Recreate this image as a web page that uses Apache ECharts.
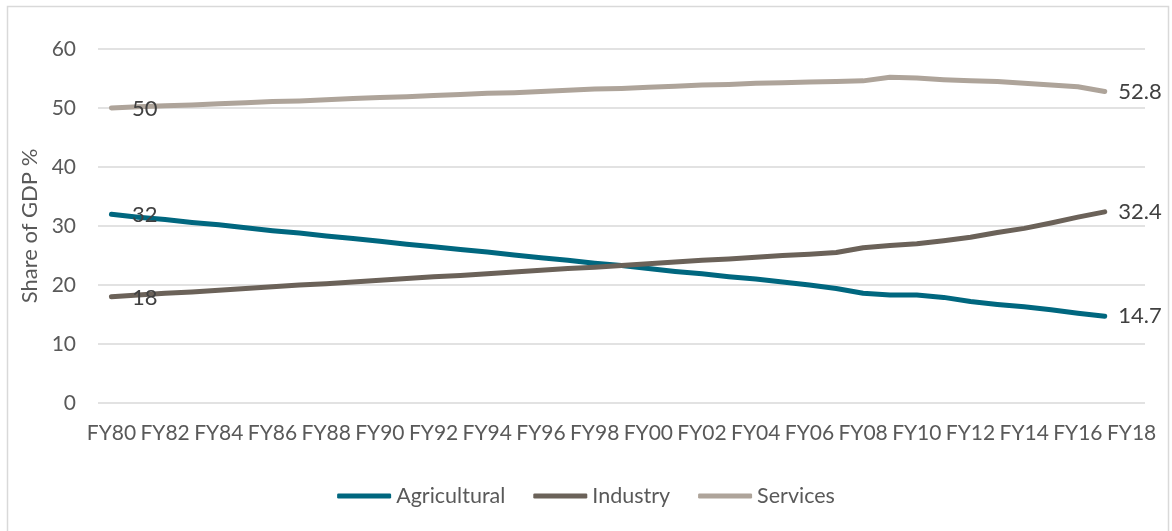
<!DOCTYPE html>
<html>
<head>
<meta charset="utf-8">
<title>Share of GDP by sector</title>
<script src="https://cdn.jsdelivr.net/npm/echarts@6/dist/echarts.min.js"></script>
<style>
  html, body { margin: 0; padding: 0; background: #ffffff; }
  #chart { width: 1172px; height: 531px; }
</style>
</head>
<body>
<div id="chart"></div>
<script>
// Fiscal years FY80 .. FY18 (data runs to FY17)
const years = [
  'FY80','FY81','FY82','FY83','FY84','FY85','FY86','FY87','FY88','FY89',
  'FY90','FY91','FY92','FY93','FY94','FY95','FY96','FY97','FY98','FY99',
  'FY00','FY01','FY02','FY03','FY04','FY05','FY06','FY07','FY08','FY09',
  'FY10','FY11','FY12','FY13','FY14','FY15','FY16','FY17','FY18'
];

// Sector shares of GDP, %
const agricultural = [
  32.0, 31.5, 31.1, 30.6, 30.2, 29.7, 29.2, 28.8, 28.3, 27.9,
  27.4, 26.9, 26.5, 26.0, 25.6, 25.1, 24.6, 24.2, 23.7, 23.3,
  22.8, 22.3, 21.9, 21.4, 21.0, 20.5, 20.0, 19.4, 18.6, 18.3,
  18.3, 17.9, 17.2, 16.7, 16.3, 15.8, 15.2, 14.7
];
const industry = [
  18.0, 18.3, 18.6, 18.8, 19.1, 19.4, 19.7, 20.0, 20.2, 20.5,
  20.8, 21.1, 21.4, 21.6, 21.9, 22.2, 22.5, 22.8, 23.0, 23.3,
  23.6, 23.9, 24.2, 24.4, 24.7, 25.0, 25.2, 25.5, 26.3, 26.7,
  27.0, 27.5, 28.1, 28.9, 29.6, 30.5, 31.5, 32.4
];
const services = [
  50.0, 50.2, 50.4, 50.5, 50.7, 50.9, 51.1, 51.2, 51.4, 51.6,
  51.8, 51.9, 52.1, 52.3, 52.5, 52.6, 52.8, 53.0, 53.2, 53.3,
  53.5, 53.7, 53.9, 54.0, 54.2, 54.3, 54.4, 54.5, 54.6, 55.2,
  55.1, 54.8, 54.6, 54.5, 54.2, 53.9, 53.6, 52.8
];

const yTicks = { min: 0, max: 60, interval: 10 };

const FONT = 'Lato, "Open Sans", sans-serif';
const colors = { agricultural: '#00677f', industry: '#6b6259', services: '#aea49a' };

// Label only the first and last points of each series
function withEndLabels(values) {
  const last = values.length - 1;
  return values.map(function (v, i) {
    if (i === 0) {
      return { value: v, label: { show: true, position: 'right', offset: [15, 1] } };
    }
    if (i === last) {
      return { value: v, label: { show: true, position: 'right', offset: [8, 0] } };
    }
    return v;
  });
}

function lineSeries(name, values, color) {
  return {
    name: name,
    type: 'line',
    data: withEndLabels(values),
    symbol: 'circle',
    symbolSize: 1,
    showAllSymbol: true,
    itemStyle: { color: color },
    lineStyle: { color: color, width: 5, cap: 'round', join: 'round' },
    label: {
      show: false,
      fontFamily: FONT,
      fontSize: 22,
      color: '#404040'
    },
    emphasis: { disabled: true },
    animation: false
  };
}

const chart = echarts.init(document.getElementById('chart'), null, { renderer: 'canvas' });

chart.setOption({
  backgroundColor: '#ffffff',
  textStyle: { fontFamily: FONT },
  graphic: [{
    type: 'rect',
    shape: { x: 7.5, y: 6.5, width: 1161, height: 560 },
    style: { fill: 'none', stroke: '#d9d9d9', lineWidth: 1.5 },
    silent: true
  }],
  grid: { left: 98, right: 27, top: 49, bottom: 128, containLabel: false },
  legend: {
    top: 480,
    left: 'center',
    icon: 'roundRect',
    itemWidth: 54,
    itemHeight: 5,
    itemGap: 28,
    textStyle: { fontFamily: FONT, fontSize: 21.5, color: '#595959' },
    data: ['Agricultural', 'Industry', 'Services']
  },
  xAxis: {
    type: 'category',
    data: years,
    boundaryGap: true,
    axisLine: { show: false },
    axisTick: { show: false },
    axisLabel: {
      interval: 1,
      margin: 20,
      fontFamily: FONT,
      fontSize: 21,
      color: '#595959'
    },
    splitLine: { show: false }
  },
  yAxis: {
    type: 'value',
    min: yTicks.min,
    max: yTicks.max,
    interval: yTicks.interval,
    name: 'Share of GDP %',
    nameLocation: 'middle',
    nameRotate: 90,
    nameGap: 55,
    nameTextStyle: { fontFamily: FONT, fontSize: 22, color: '#595959' },
    axisLine: { show: false },
    axisTick: { show: false },
    axisLabel: {
      margin: 22,
      fontFamily: FONT,
      fontSize: 21,
      color: '#595959'
    },
    splitLine: { lineStyle: { color: '#d9d9d9', width: 1.5 } }
  },
  series: [
    lineSeries('Agricultural', agricultural, colors.agricultural),
    lineSeries('Industry', industry, colors.industry),
    lineSeries('Services', services, colors.services)
  ]
});
</script>
</body>
</html>
